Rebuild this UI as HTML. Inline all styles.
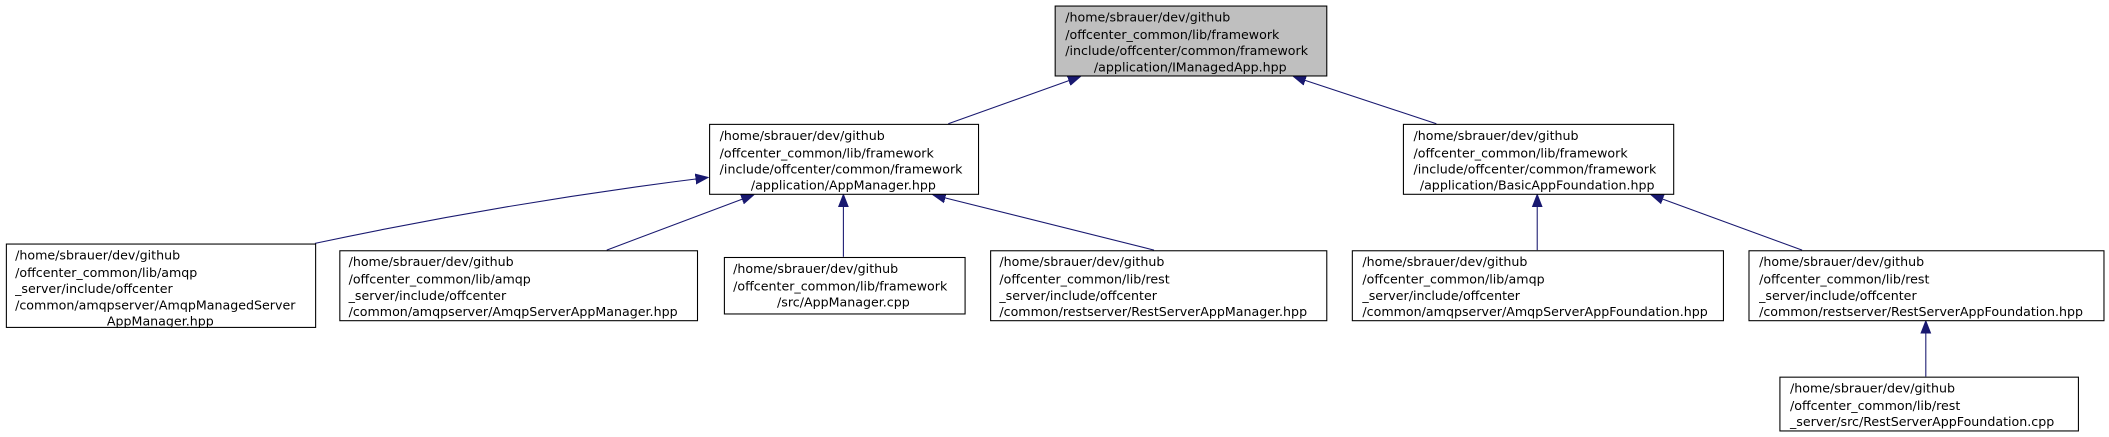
<!DOCTYPE html>
<html><head><meta charset="utf-8"><style>
html,body{margin:0;padding:0;background:#fff;width:2109px;height:437px;overflow:hidden}
text{font-family:"DejaVu Sans","Liberation Sans",sans-serif;font-size:9.4px;fill:#000}
</style></head><body>
<svg width="2109" height="437" viewBox="0 0 1568 325" xmlns="http://www.w3.org/2000/svg">
<defs><marker id="a" markerWidth="10" markerHeight="10" refX="9" refY="5" orient="auto" markerUnits="userSpaceOnUse">
<path d="M0,1.5 L9,5 L0,8.5 z" fill="#191970" stroke="#191970"/></marker></defs>
<g stroke="#191970" stroke-width="0.8" fill="none" marker-end="url(#a)">
<line x1="705" y1="92" x2="803" y2="57"/>
<line x1="1068" y1="92" x2="962" y2="57"/>
<path d="M234,181 Q380,150 526,132"/>
<line x1="451" y1="186" x2="560" y2="145"/>
<line x1="627" y1="191" x2="627" y2="145"/>
<line x1="858" y1="186" x2="694" y2="145"/>
<line x1="1143" y1="186" x2="1143" y2="145"/>
<line x1="1340" y1="186" x2="1228" y2="145"/>
<line x1="1432" y1="280" x2="1432" y2="239"/>
</g>
<g stroke="#000" stroke-width="0.8">
<rect x="784.5" y="4.5" width="202" height="52" fill="#bfbfbf"/>
<rect x="527.5" y="92.5" width="200" height="52" fill="#fff"/>
<rect x="1043.5" y="92.5" width="201" height="52" fill="#fff"/>
<rect x="4.5" y="181.5" width="230" height="62" fill="#fff"/>
<rect x="252.5" y="186.5" width="266" height="52" fill="#fff"/>
<rect x="538.5" y="191.5" width="179" height="42" fill="#fff"/>
<rect x="736.5" y="186.5" width="250" height="52" fill="#fff"/>
<rect x="1005.5" y="186.5" width="276" height="52" fill="#fff"/>
<rect x="1300.5" y="186.5" width="264" height="52" fill="#fff"/>
<rect x="1323.5" y="280.5" width="222" height="40" fill="#fff"/>
</g>
<text x="792" y="16">/home/sbrauer/dev/github</text>
<text x="792" y="29">/offcenter_common/lib/framework</text>
<text x="792" y="41">/include/offcenter/common/framework</text>
<text x="885" y="53" text-anchor="middle">/application/IManagedApp.hpp</text>

<text x="535" y="104">/home/sbrauer/dev/github</text>
<text x="535" y="117">/offcenter_common/lib/framework</text>
<text x="535" y="129">/include/offcenter/common/framework</text>
<text x="627" y="141" text-anchor="middle">/application/AppManager.hpp</text>

<text x="1051" y="104">/home/sbrauer/dev/github</text>
<text x="1051" y="117">/offcenter_common/lib/framework</text>
<text x="1051" y="129">/include/offcenter/common/framework</text>
<text x="1143" y="141" text-anchor="middle">/application/BasicAppFoundation.hpp</text>

<text x="11" y="193">/home/sbrauer/dev/github</text>
<text x="11" y="206">/offcenter_common/lib/amqp</text>
<text x="11" y="218">_server/include/offcenter</text>
<text x="11" y="230">/common/amqpserver/AmqpManagedServer</text>
<text x="119" y="242" text-anchor="middle">AppManager.hpp</text>

<text x="259" y="198">/home/sbrauer/dev/github</text>
<text x="259" y="211">/offcenter_common/lib/amqp</text>
<text x="259" y="223">_server/include/offcenter</text>
<text x="259" y="235">/common/amqpserver/AmqpServerAppManager.hpp</text>

<text x="545" y="203">/home/sbrauer/dev/github</text>
<text x="545" y="216">/offcenter_common/lib/framework</text>
<text x="627" y="228" text-anchor="middle">/src/AppManager.cpp</text>

<text x="743" y="198">/home/sbrauer/dev/github</text>
<text x="743" y="211">/offcenter_common/lib/rest</text>
<text x="743" y="223">_server/include/offcenter</text>
<text x="743" y="235">/common/restserver/RestServerAppManager.hpp</text>

<text x="1013" y="198">/home/sbrauer/dev/github</text>
<text x="1013" y="211">/offcenter_common/lib/amqp</text>
<text x="1013" y="223">_server/include/offcenter</text>
<text x="1013" y="235">/common/amqpserver/AmqpServerAppFoundation.hpp</text>

<text x="1308" y="198">/home/sbrauer/dev/github</text>
<text x="1308" y="211">/offcenter_common/lib/rest</text>
<text x="1308" y="223">_server/include/offcenter</text>
<text x="1308" y="235">/common/restserver/RestServerAppFoundation.hpp</text>

<text x="1331" y="292">/home/sbrauer/dev/github</text>
<text x="1331" y="305">/offcenter_common/lib/rest</text>
<text x="1331" y="317">_server/src/RestServerAppFoundation.cpp</text>
</svg>
</body></html>
